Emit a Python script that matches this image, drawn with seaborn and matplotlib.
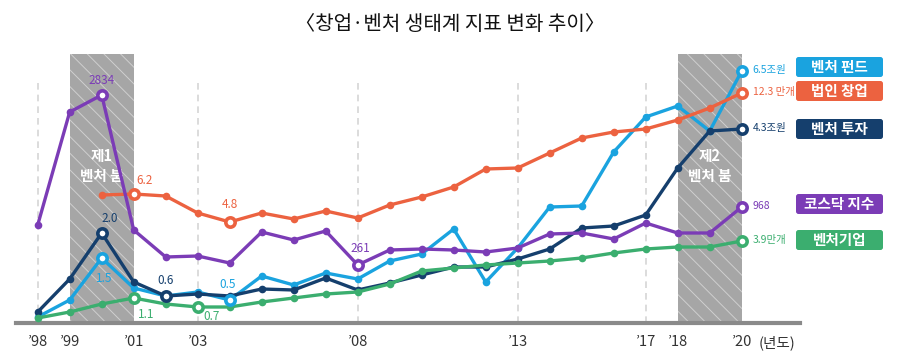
import numpy as np
import pandas as pd
import matplotlib
matplotlib.use('Agg')
import matplotlib.pyplot as plt
from matplotlib.patches import FancyBboxPatch
import seaborn as sns

# data: relative level of each indicator (each series on its own scale)
years = list(range(1998, 2021))
fund = [6, 23, 65, 35, 27, 31, 23, 47, 38, 50, 44, 62, 69, 94, 41, 75, 116, 117, 171, 206, 217, 192, 252]
startup = [np.nan, np.nan, 128, 129, 127, 110, 101, 110, 104, 112, 105, 118, 126, 136, 154, 155, 170, 185, 191, 194, 203, 215, 230]
invest = [11, 44, 90, 41, 27, 29, 27, 34, 33, 45, 33, 40, 48, 56, 56, 64, 74, 95, 97, 108, 155, 192, 194]
kosdaq = [98, 211, 228, 93, 66, 67, 60, 91, 83, 92, 58, 73, 74, 73, 71, 75, 89, 90, 84, 100, 90, 90, 116]
firms = [5, 11, 19, 25, 19, 16, 16, 21, 25, 29, 31, 39, 52, 55, 58, 60, 62, 65, 70, 74, 76, 76, 82]

series_names = ['벤처 펀드', '법인 창업', '벤처 투자', '코스닥 지수', '벤처기업']
colors = ['#1aa3df', '#ec6240', '#153f6d', '#7b3cb6', '#3bae6f']

# highlighted points: (series, year, label, offset in pixels)
highlights = [
    ('코스닥 지수', 2000, '2834', (0, 14)),
    ('코스닥 지수', 2008, '261', (3, 16)),
    ('법인 창업', 2001, '6.2', (11, 13)),
    ('법인 창업', 2004, '4.8', (0, 17)),
    ('벤처 투자', 2000, '2.0', (8, 14)),
    ('벤처 투자', 2002, '0.6', (0, 16)),
    ('벤처 펀드', 2000, '1.5', (2, -21)),
    ('벤처 펀드', 2004, '0.5', (-2, 16)),
    ('벤처기업', 2001, '1.1', (12, -16)),
    ('벤처기업', 2003, '0.7', (14, -10)),
]
end_labels = ['6.5조원', '12.3 만개', '4.3조원', '968', '3.9만개']

tick_years = [1998, 1999, 2001, 2003, 2008, 2013, 2017, 2018, 2020]
tick_labels = ['’98', '’99', '’01', '’03', '’08', '’13', '’17', '’18', '’20']
dash_years = [1998, 2003, 2008, 2013, 2017]
booms = [(1999, 2001, '제1\n벤처 붐'), (2018, 2020, '제2\n벤처 붐')]

df = pd.DataFrame({'year': years, '벤처 펀드': fund, '법인 창업': startup,
                   '벤처 투자': invest, '코스닥 지수': kosdaq, '벤처기업': firms})
long = df.melt(id_vars='year', var_name='series', value_name='level').dropna()
palette = dict(zip(series_names, colors))

sns.set_style('white')
plt.rcParams['font.family'] = ['Noto Sans CJK KR', 'DejaVu Sans']
plt.rcParams['hatch.linewidth'] = 0.7

fig = plt.figure(figsize=(9, 3.57), dpi=100)
ax = fig.add_axes([0, 34 / 357, 1, 323 / 357])
ax.set_xlim(1998 - 37.7 / 32, 1998 + (900 - 37.7) / 32)
ax.set_ylim(0, 323)

# boom periods
for x0, x1, txt in booms:
    ax.axvspan(x0, x1, ymin=0, ymax=269 / 323, facecolor='#a6a6a6',
               edgecolor='#cfcfcf', hatch='\\\\', linewidth=0, zorder=0)
    ax.text((x0 + x1) / 2, 157, txt, ha='center', va='center', color='white',
            fontsize=10.5, fontweight='bold', linespacing=1.35, zorder=1)

ax.vlines(dash_years, 0, 245, colors='#d6d6d6', linestyles=(0, (4, 3)), lw=1.2, zorder=0)

sns.lineplot(data=long, x='year', y='level', hue='series', hue_order=series_names,
             palette=palette, marker='o', markersize=5.5, markeredgewidth=0,
             linewidth=2.4, legend=False, ax=ax, zorder=3)

# highlighted open circles with values
for name, yr, txt, off in highlights:
    val = df.loc[df.year == yr, name].iloc[0]
    ax.scatter([yr], [val], s=45, facecolor='white', edgecolor=palette[name],
               linewidth=2.6, zorder=5)
    ax.annotate(txt, (yr, val), xytext=off, textcoords='offset pixels',
                ha='center', va='center', color=palette[name], fontsize=8.5,
                fontweight='medium', zorder=6)

last = df.iloc[-1]
for name, txt in zip(series_names, end_labels):
    ax.scatter([last.year], [last[name]], s=45, facecolor='white',
               edgecolor=palette[name], linewidth=2.6, zorder=5)
    ax.annotate(txt, (last.year, last[name]), xytext=(11, 1), textcoords='offset pixels',
                ha='left', va='center', color=palette[name], fontsize=7.5,
                fontweight='medium', zorder=6)

# legend boxes on the right
box_centers = [256, 232, 194, 119, 83]
for name, yc in zip(series_names, box_centers):
    x0 = 1998 + (796 - 37.7) / 32
    x1 = 1998 + (883 - 37.7) / 32
    ax.add_patch(FancyBboxPatch((x0, yc - 10), x1 - x0, 20,
                                boxstyle='round,pad=0,rounding_size=0.08',
                                mutation_aspect=32, facecolor=palette[name],
                                edgecolor='none', clip_on=False))
    ax.text((x0 + x1) / 2, yc, name, ha='center', va='center', color='white',
            fontsize=10.5, fontweight='bold')

# axis
for s in ['top', 'right', 'left']:
    ax.spines[s].set_visible(False)
ax.spines['bottom'].set_color('#8a8a8a')
ax.spines['bottom'].set_linewidth(3)
ax.spines['bottom'].set_bounds(1998 - 21.7 / 32, 1998 + (800 - 37.7) / 32)
ax.set_yticks([])
ax.set_xticks(tick_years)
ax.set_xticklabels(tick_labels, fontsize=10.5, color='#333333')
ax.tick_params(axis='x', length=0, pad=9)
ax.set_xlabel('')
ax.set_ylabel('')
ax.text(1998 + (777 - 37.7) / 32, -20, '(년도)', ha='center', va='center',
        fontsize=10.5, color='#333333', clip_on=False)

fig.text(0.5, 1 - 25 / 357, '〈창업·벤처 생태계 지표 변화 추이〉', ha='center', va='center',
         fontsize=14.5, fontweight='medium', color='#111111')

fig.savefig('out.png', dpi=100, facecolor='white')
